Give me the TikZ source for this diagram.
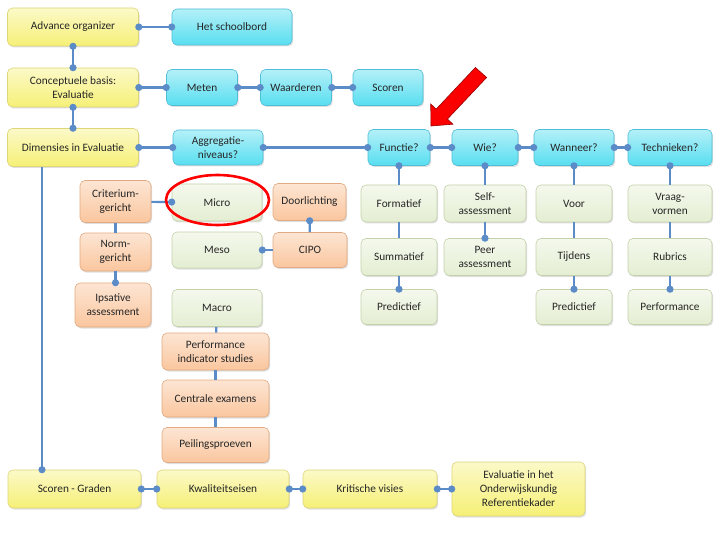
\documentclass[tikz,border=0pt]{standalone}
\usepackage{fontspec}
\setmainfont{Carlito}
\usetikzlibrary{arrows.meta,positioning,calc,shadows}

\definecolor{geel}{RGB}{246,240,118}
\definecolor{geelrand}{RGB}{222,214,120}
\definecolor{cyaan}{RGB}{88,222,240}
\definecolor{cyaanrand}{RGB}{80,190,215}
\definecolor{oranje}{RGB}{250,198,158}
\definecolor{oranjerand}{RGB}{225,170,130}
\definecolor{groen}{RGB}{228,238,210}
\definecolor{groenrand}{RGB}{195,210,170}
\definecolor{lijnkleur}{RGB}{92,140,200}
\definecolor{pijlrood}{RGB}{250,0,0}

\tikzset{
  blok/.style={rectangle, rounded corners=5pt, line width=0.6pt, align=center,
    font=\fontsize{11.3}{14}\selectfont, text=black!85, inner sep=1pt,
    drop shadow={shadow xshift=1.2pt, shadow yshift=-1.5pt, opacity=0.25}},
  geelblok/.style={blok, draw=geelrand, top color=geel!40!white, bottom color=geel},
  cyaanblok/.style={blok, draw=cyaanrand, top color=cyaan!45!white, bottom color=cyaan},
  oranjeblok/.style={blok, draw=oranjerand, top color=oranje!45!white, bottom color=oranje},
  groenblok/.style={blok, draw=groenrand, top color=groen!40!white, bottom color=groen},
  lijn/.style={draw=lijnkleur, line width=2.2pt},
  beide/.style={lijn, {Circle[length=7pt]}-{Circle[length=7pt]}, shorten <=-3.5pt, shorten >=-3.5pt},
  eind/.style={lijn, -{Circle[length=7pt]}, shorten >=-3.5pt},
  begin/.style={lijn, {Circle[length=7pt]}-, shorten <=-3.5pt}
}

\begin{document}
\begin{tikzpicture}[x=1pt, y=-1pt]
  \useasboundingbox[fill=white] (0,0) rectangle (720,540);

  % linker kolom (geel)
  \node[geelblok, minimum width=131pt, minimum height=38pt] (advorg) at (73,27) {Advance organizer};
  \node[geelblok, minimum width=131pt, minimum height=39pt] (concbasis) at (73,87.5) {Conceptuele basis:\\Evaluatie};
  \node[geelblok, minimum width=131pt, minimum height=38pt] (dimensies) at (73,147.5) {Dimensies in Evaluatie};

  % bovenste rijen (cyaan)
  \node[cyaanblok, minimum width=120pt, minimum height=36pt] (schoolbord) at (232,27) {Het schoolbord};
  \node[cyaanblok, minimum width=71pt, minimum height=36pt] (meten) at (202,87.5) {Meten};
  \node[cyaanblok, minimum width=71pt, minimum height=36pt] (waarderen) at (296,87.5) {Waarderen};
  \node[cyaanblok, minimum width=70pt, minimum height=36pt] (scoren) at (388,87.5) {Scoren};
  \node[cyaanblok, minimum width=90pt, minimum height=35pt] (aggreg) at (218,147.5) {Aggregatie-\\niveaus?};
  \node[cyaanblok, minimum width=62pt, minimum height=36pt] (functie) at (399,147.5) {Functie?};
  \node[cyaanblok, minimum width=66pt, minimum height=36pt] (wie) at (485,147.5) {Wie?};
  \node[cyaanblok, minimum width=80pt, minimum height=36pt] (wanneer) at (574,147.5) {Wanneer?};
  \node[cyaanblok, minimum width=84pt, minimum height=36pt] (technieken) at (670,147.5) {Technieken?};

  % aggregatieniveaus
  \node[oranjeblok, minimum width=71pt, minimum height=42pt] (crit) at (115.5,201.5) {Criterium-\\gericht};
  \node[oranjeblok, minimum width=71pt, minimum height=38pt] (norm) at (115.5,252) {Norm-\\gericht};
  \node[oranjeblok, minimum width=76pt, minimum height=44pt] (ipsatief) at (113,305) {Ipsative\\assessment};
  \node[groenblok, minimum width=90pt, minimum height=37pt] (micro) at (217,202.5) {Micro};
  \node[groenblok, minimum width=90pt, minimum height=36pt] (meso) at (217,250) {Meso};
  \node[groenblok, minimum width=90pt, minimum height=37pt] (macro) at (217,308) {Macro};
  \node[oranjeblok, minimum width=73pt, minimum height=37pt] (doorl) at (309.5,202) {Doorlichting};
  \node[oranjeblok, minimum width=74pt, minimum height=35pt] (cipo) at (310,250) {CIPO};
  \node[oranjeblok, minimum width=107pt, minimum height=37pt] (pis) at (215.5,351.5) {Performance\\indicator studies};
  \node[oranjeblok, minimum width=107pt, minimum height=37pt] (centraal) at (215.5,398.5) {Centrale examens};
  \node[oranjeblok, minimum width=107pt, minimum height=35pt] (peiling) at (215.5,445) {Peilingsproeven};

  % functie, wie, wanneer, technieken
  \node[groenblok, minimum width=76pt, minimum height=37pt] (formatief) at (399,203.5) {Formatief};
  \node[groenblok, minimum width=76pt, minimum height=37pt] (summatief) at (399,257) {Summatief};
  \node[groenblok, minimum width=76pt, minimum height=35pt] (predictief) at (399,307) {Predictief};
  \node[groenblok, minimum width=82pt, minimum height=37pt] (self) at (485,203.5) {Self-\\assessment};
  \node[groenblok, minimum width=82pt, minimum height=37pt] (peer) at (485,257) {Peer\\assessment};
  \node[groenblok, minimum width=76pt, minimum height=37pt] (voor) at (574,203.5) {Voor};
  \node[groenblok, minimum width=76pt, minimum height=37pt] (tijdens) at (574,257) {Tijdens};
  \node[groenblok, minimum width=76pt, minimum height=35pt] (predictieftwee) at (574,307) {Predictief};
  \node[groenblok, minimum width=84pt, minimum height=37pt] (vraag) at (670,203.5) {Vraag-\\vormen};
  \node[groenblok, minimum width=84pt, minimum height=37pt] (rubrics) at (670,257) {Rubrics};
  \node[groenblok, minimum width=84pt, minimum height=35pt] (performance) at (670,307) {Performance};

  % onderste rij (geel)
  \node[geelblok, minimum width=133pt, minimum height=38pt] (graden) at (74.5,489) {Scoren - Graden};
  \node[geelblok, minimum width=132pt, minimum height=38pt] (kwaliteit) at (223,489) {Kwaliteitseisen};
  \node[geelblok, minimum width=134pt, minimum height=38pt] (kritisch) at (370,489) {Kritische visies};
  \node[geelblok, minimum width=133pt, minimum height=54pt] (oref) at (518.5,489) {Evaluatie in het\\Onderwijskundig\\Referentiekader};

  \coordinate (links) at (42,0);

  % verbindingen
  \draw[beide] (advorg) -- (schoolbord);
  \draw[beide] (advorg) -- (concbasis);
  \draw[beide] (concbasis) -- (dimensies);
  \draw[beide] (concbasis) -- (meten);
  \draw[beide] (meten) -- (waarderen);
  \draw[beide] (waarderen) -- (scoren);
  \draw[beide] (dimensies) -- (aggreg);
  \draw[beide] (aggreg) -- (functie);
  \draw[beide] (functie) -- (wie);
  \draw[beide] (wie) -- (wanneer);
  \draw[beide] (wanneer) -- (technieken);

  \draw[begin] (functie) -- (formatief);
  \draw[lijn] (formatief) -- (summatief);
  \draw[eind] (summatief) -- (predictief);
  \draw[begin] (wie) -- (self);
  \draw[eind] (self) -- (peer);
  \draw[begin] (wanneer) -- (voor);
  \draw[lijn] (voor) -- (tijdens);
  \draw[eind] (tijdens) -- (predictieftwee);
  \draw[begin] (technieken) -- (vraag);
  \draw[lijn] (vraag) -- (rubrics);
  \draw[eind] (rubrics) -- (performance);

  \draw[eind] (crit) -- (micro);
  \draw[lijn] (crit) -- (norm);
  \draw[eind] (norm.south) -- (norm.south |- ipsatief.north);
  \draw[begin] (doorl) -- (cipo);
  \draw[eind] (cipo) -- (meso);
  \draw[lijn] (macro) -- (pis);
  \draw[lijn] (pis) -- (centraal);
  \draw[lijn] (centraal) -- (peiling);

  \draw[eind] (dimensies.south -| links) -- (graden.north -| links);
  \draw[beide] (graden) -- (kwaliteit);
  \draw[beide] (kwaliteit) -- (kritisch);
  \draw[beide] (kritisch) -- (oref);

  % markering
  \draw[red, line width=2.6pt] (217.5,200) ellipse (51.5 and 25);
  \draw[fill=pijlrood, draw=red!60!black, line width=0.6pt, line join=miter]
    (475.4,67.5) -- (486.6,77.5) -- (447.4,119.1) -- (452.9,124.2) -- (431,126)
    -- (430.7,104.0) -- (436.2,109.1) -- cycle;
\end{tikzpicture}
\end{document}
